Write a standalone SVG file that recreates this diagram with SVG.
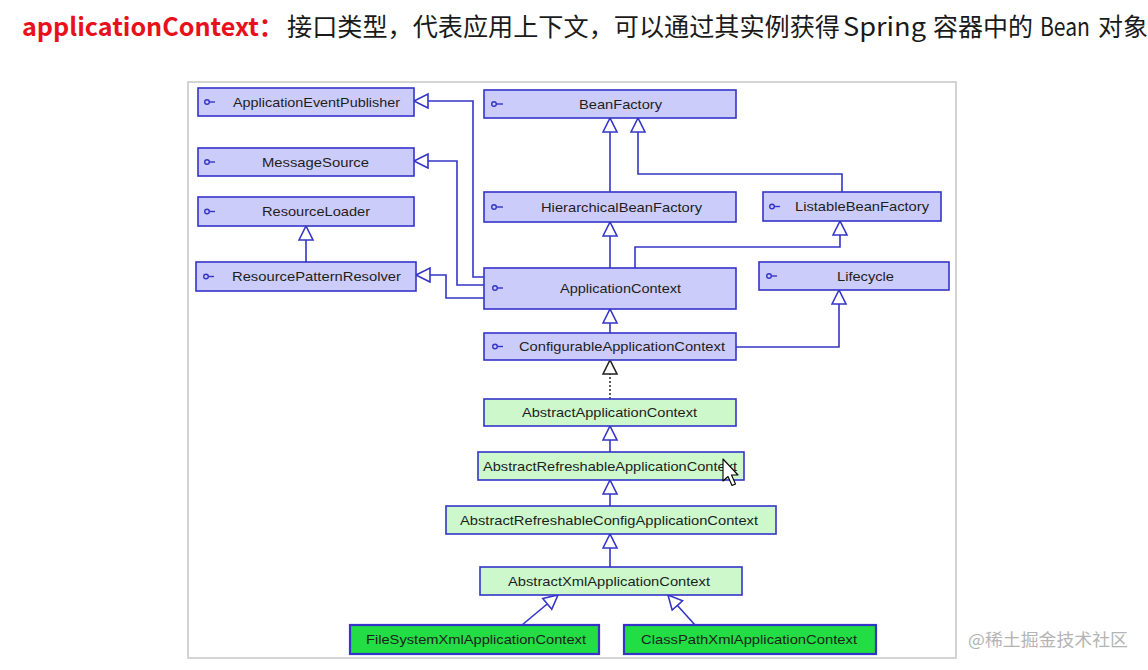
<svg xmlns="http://www.w3.org/2000/svg" width="1148" height="670" viewBox="0 0 1148 670">
<style>
.title{font-family:"Noto Sans CJK SC","Noto Sans",sans-serif;font-size:25px;fill:#1a1a1a}
.red{fill:#e8101a;font-weight:bold}
.box{stroke:#3434c8;stroke-width:1.6}
.if{fill:#ccccfa}
.ab{fill:#ccf8cc}
.cl{fill:#22dd44;stroke-width:2.2}
.lbl{font-family:"Liberation Sans",Arial,sans-serif;font-size:13px;fill:#1e1e1e;text-anchor:middle}
.ico{fill:none;stroke:#3434c8;stroke-width:1.4}
.c{fill:none;stroke:#3434c8;stroke-width:1.6}
.wm{font-family:"Noto Sans CJK SC","Noto Sans",sans-serif;font-size:17px;fill:#b4b4b4}
</style>
<defs>
<marker id="gen" markerUnits="userSpaceOnUse" markerWidth="18" markerHeight="18" refX="15" refY="8" orient="auto">
<path d="M1,1 L15,8 L1,15 Z" fill="#fff" stroke="#3434c8" stroke-width="1.6"/>
</marker>
<marker id="real" markerUnits="userSpaceOnUse" markerWidth="18" markerHeight="18" refX="15" refY="8" orient="auto">
<path d="M1,1 L15,8 L1,15 Z" fill="#fff" stroke="#222" stroke-width="1.6"/>
</marker>
</defs>
<rect width="1148" height="670" fill="#fff"/>
<text class="title" y="36"><tspan class="red" x="22" textLength="262" lengthAdjust="spacingAndGlyphs">applicationContext：</tspan><tspan x="287" textLength="553" lengthAdjust="spacingAndGlyphs">接口类型，代表应用上下文，可以通过其实例获得</tspan><tspan x="843" textLength="83" lengthAdjust="spacingAndGlyphs">Spring</tspan><tspan x="933" textLength="100" lengthAdjust="spacingAndGlyphs">容器中的</tspan><tspan x="1040" textLength="50" lengthAdjust="spacingAndGlyphs">Bean</tspan><tspan x="1098" textLength="50" lengthAdjust="spacingAndGlyphs">对象</tspan></text>
<rect x="188" y="82" width="768" height="576" fill="none" stroke="#d4d4d4" stroke-width="2"/>
<g id="connectors">
<path class="c" d="M610,192 V118" marker-end="url(#gen)"/>
<path class="c" d="M842,192 V174 H638 V118" marker-end="url(#gen)"/>
<path class="c" d="M610,268 V222" marker-end="url(#gen)"/>
<path class="c" d="M635,268 V247 H840 V221" marker-end="url(#gen)"/>
<path class="c" d="M484,277 H473 V101 H414" marker-end="url(#gen)"/>
<path class="c" d="M484,285 H457 V161 H414" marker-end="url(#gen)"/>
<path class="c" d="M484,298 H446 V275 H416" marker-end="url(#gen)"/>
<path class="c" d="M306,262 V226" marker-end="url(#gen)"/>
<path class="c" d="M610,333 V309" marker-end="url(#gen)"/>
<path class="c" d="M736,347 H839 V290" marker-end="url(#gen)"/>
<path d="M610,399 V360" fill="none" stroke="#333" stroke-width="1.6" stroke-dasharray="2,2" marker-end="url(#real)"/>
<path class="c" d="M610,452 V426" marker-end="url(#gen)"/>
<path class="c" d="M610,506 V480" marker-end="url(#gen)"/>
<path class="c" d="M610,567 V534" marker-end="url(#gen)"/>
<path class="c" d="M522,625 L558,595" marker-end="url(#gen)"/>
<path class="c" d="M695,625 L668,595" marker-end="url(#gen)"/>
</g>
<g id="ApplicationEventPublisher"><rect class="box if" x="198" y="88" width="216" height="28"/><circle class="ico" cx="207" cy="102" r="2.3"/><line class="ico" x1="209.3" y1="102" x2="215" y2="102"/><text class="lbl" x="316.5" y="106.5" textLength="167" lengthAdjust="spacingAndGlyphs">ApplicationEventPublisher</text></g>
<g id="MessageSource"><rect class="box if" x="198" y="148" width="216" height="28"/><circle class="ico" cx="207" cy="162" r="2.3"/><line class="ico" x1="209.3" y1="162" x2="215" y2="162"/><text class="lbl" x="315.5" y="166.5" textLength="107" lengthAdjust="spacingAndGlyphs">MessageSource</text></g>
<g id="ResourceLoader"><rect class="box if" x="198" y="197" width="216" height="29"/><circle class="ico" cx="207" cy="211.5" r="2.3"/><line class="ico" x1="209.3" y1="211.5" x2="215" y2="211.5"/><text class="lbl" x="316" y="216" textLength="108" lengthAdjust="spacingAndGlyphs">ResourceLoader</text></g>
<g id="ResourcePatternResolver"><rect class="box if" x="196" y="262" width="220" height="29"/><circle class="ico" cx="206" cy="276.5" r="2.3"/><line class="ico" x1="208.3" y1="276.5" x2="214" y2="276.5"/><text class="lbl" x="316.5" y="281" textLength="169" lengthAdjust="spacingAndGlyphs">ResourcePatternResolver</text></g>
<g id="BeanFactory"><rect class="box if" x="484" y="90" width="252" height="28"/><circle class="ico" cx="494" cy="104" r="2.3"/><line class="ico" x1="496.3" y1="104" x2="503" y2="104"/><text class="lbl" x="620.5" y="108.5" textLength="83" lengthAdjust="spacingAndGlyphs">BeanFactory</text></g>
<g id="HierarchicalBeanFactory"><rect class="box if" x="484" y="192" width="252" height="30"/><circle class="ico" cx="494" cy="207" r="2.3"/><line class="ico" x1="496.3" y1="207" x2="503" y2="207"/><text class="lbl" x="621.5" y="211.5" textLength="161" lengthAdjust="spacingAndGlyphs">HierarchicalBeanFactory</text></g>
<g id="ListableBeanFactory"><rect class="box if" x="763" y="192" width="178" height="29"/><circle class="ico" cx="772" cy="206.5" r="2.3"/><line class="ico" x1="774.3" y1="206.5" x2="780" y2="206.5"/><text class="lbl" x="862" y="211" textLength="134" lengthAdjust="spacingAndGlyphs">ListableBeanFactory</text></g>
<g id="Lifecycle"><rect class="box if" x="759" y="262" width="190" height="28"/><circle class="ico" cx="769" cy="276" r="2.3"/><line class="ico" x1="771.3" y1="276" x2="777" y2="276"/><text class="lbl" x="865.5" y="280.5" textLength="57" lengthAdjust="spacingAndGlyphs">Lifecycle</text></g>
<g id="ApplicationContext"><rect class="box if" x="484" y="268" width="252" height="41" stroke-width="2.4"/><circle class="ico" cx="495" cy="288" r="2.3"/><line class="ico" x1="497.3" y1="288" x2="503" y2="288"/><text class="lbl" x="620.5" y="293" textLength="121" lengthAdjust="spacingAndGlyphs">ApplicationContext</text></g>
<g id="ConfigurableApplicationContext"><rect class="box if" x="484" y="333" width="252" height="27"/><circle class="ico" cx="495" cy="346.5" r="2.3"/><line class="ico" x1="497.3" y1="346.5" x2="503" y2="346.5"/><text class="lbl" x="622" y="351" textLength="206" lengthAdjust="spacingAndGlyphs">ConfigurableApplicationContext</text></g>
<g id="AbstractApplicationContext"><rect class="box ab" x="484" y="399" width="252" height="27"/><text class="lbl" x="609.5" y="417" textLength="175" lengthAdjust="spacingAndGlyphs">AbstractApplicationContext</text></g>
<g id="AbstractRefreshableApplicationContext"><rect class="box ab" x="478" y="452" width="266" height="28"/><text class="lbl" x="610" y="470.5" textLength="254" lengthAdjust="spacingAndGlyphs">AbstractRefreshableApplicationContext</text></g>
<g id="AbstractRefreshableConfigApplicationContext"><rect class="box ab" x="446" y="506" width="330" height="28"/><text class="lbl" x="609" y="524.5" textLength="298" lengthAdjust="spacingAndGlyphs">AbstractRefreshableConfigApplicationContext</text></g>
<g id="AbstractXmlApplicationContext"><rect class="box ab" x="480" y="567" width="262" height="28"/><text class="lbl" x="609" y="585.5" textLength="202" lengthAdjust="spacingAndGlyphs">AbstractXmlApplicationContext</text></g>
<g id="FileSystemXmlApplicationContext"><rect class="box cl" x="350" y="625" width="249" height="29"/><text class="lbl" x="476" y="644" textLength="220" lengthAdjust="spacingAndGlyphs">FileSystemXmlApplicationContext</text></g>
<g id="ClassPathXmlApplicationContext"><rect class="box cl" x="624" y="625" width="252" height="29"/><text class="lbl" x="749" y="644" textLength="216" lengthAdjust="spacingAndGlyphs">ClassPathXmlApplicationContext</text></g>
<path d="M723,459 L723,481 L728,476.5 L732,485.5 L735.5,484 L731.5,475 L738,475 Z" fill="#fff" stroke="#000" stroke-width="1.1" stroke-linejoin="round"/>
<text class="wm" x="968" y="646" textLength="160" lengthAdjust="spacingAndGlyphs">@稀土掘金技术社区</text>
</svg>
